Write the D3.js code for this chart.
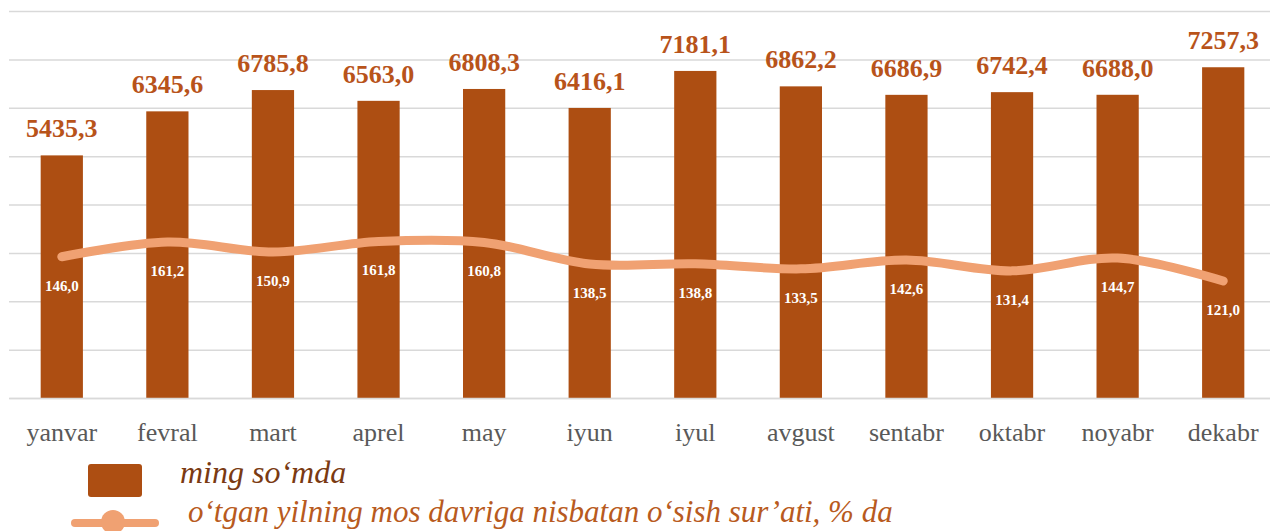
<!DOCTYPE html>
<html>
<head>
<meta charset="utf-8">
<script src="https://cdn.jsdelivr.net/npm/d3@7"></script>
<style>
  body { margin: 0; background: #fff; }
  svg { display: block; }
</style>
</head>
<body>
<script>
const width = 1270;
const height = 531;

const months = ["yanvar", "fevral", "mart", "aprel", "may", "iyun", "iyul", "avgust", "sentabr", "oktabr", "noyabr", "dekabr"];
const amount = [5435.3, 6345.6, 6785.8, 6563.0, 6808.3, 6416.1, 7181.1, 6862.2, 6686.9, 6742.4, 6688.0, 7257.3];
const growth = [146.0, 161.2, 150.9, 161.8, 160.8, 138.5, 138.8, 133.5, 142.6, 131.4, 144.7, 121.0];
const legendNames = ["ming so\u2018mda", "o\u2018tgan yilning mos davriga nisbatan o\u2018sish sur\u2019ati, % da"];

const fmt = v => v.toFixed(1).replace(".", ",");
const serif = "'Liberation Serif', 'Times New Roman', serif";

const plotTop = 11, base = 398, plotLeft = 9, plotRight = 1276;

const svg = d3.select("body").append("svg")
    .attr("width", width)
    .attr("height", height);

const x = d3.scaleBand()
    .domain(months)
    .range([plotLeft, plotRight])
    .paddingInner(0.6)
    .paddingOuter(0.3);

// bar axis (does not start at zero in the original)
const yBar = d3.scaleLinear().domain([420, 8420]).range([base, plotTop]);
// secondary axis for the growth line
const yLine = d3.scaleLinear().domain([0, 400]).range([base, plotTop]);

// grid lines
svg.append("g")
    .attr("transform", "translate(" + plotLeft + ",0)")
    .call(d3.axisLeft(yLine).tickValues(d3.range(0, 401, 50)).tickSize(-(plotRight - plotLeft)).tickFormat(""))
    .call(g => g.select(".domain").remove())
    .call(g => g.selectAll("line").attr("stroke", "#d9d9d9").attr("stroke-width", 1.5));

// bars
svg.append("g").selectAll("rect")
    .data(amount)
    .join("rect")
    .attr("x", (d, i) => x(months[i]))
    .attr("y", d => yBar(d))
    .attr("width", x.bandwidth())
    .attr("height", d => base - yBar(d))
    .attr("fill", "#ad4e12");

// bar labels
svg.append("g").selectAll("text")
    .data(amount)
    .join("text")
    .attr("x", (d, i) => x(months[i]) + x.bandwidth() / 2)
    .attr("y", d => yBar(d) - 18)
    .attr("text-anchor", "middle")
    .style("font-family", serif)
    .style("font-weight", "bold")
    .style("font-size", "26px")
    .attr("fill", "#b8531a")
    .text(d => fmt(d));

// category axis
svg.append("g")
    .attr("transform", "translate(0," + base + ")")
    .call(d3.axisBottom(x).tickSize(0).tickPadding(0))
    .call(g => g.select(".domain").attr("stroke", "#d9d9d9").attr("stroke-width", 1.5))
    .call(g => g.selectAll("text")
        .attr("dy", null)
        .attr("y", 43)
        .style("font-family", serif)
        .style("font-size", "26px")
        .attr("fill", "#595959"));

// growth line
const line = d3.line()
    .x((d, i) => x(months[i]) + x.bandwidth() / 2)
    .y(d => yLine(d))
    .curve(d3.curveCatmullRom);

svg.append("path")
    .datum(growth)
    .attr("d", line)
    .attr("fill", "none")
    .attr("stroke", "#f0a172")
    .attr("stroke-width", 9)
    .attr("stroke-linecap", "round");

svg.append("g").selectAll("text")
    .data(growth)
    .join("text")
    .attr("x", (d, i) => x(months[i]) + x.bandwidth() / 2)
    .attr("y", d => yLine(d) + 34)
    .attr("text-anchor", "middle")
    .style("font-family", serif)
    .style("font-weight", "bold")
    .style("font-size", "15px")
    .attr("fill", "#ffffff")
    .text(d => fmt(d));

// legend
const legend = svg.append("g");
legend.append("rect")
    .attr("x", 88).attr("y", 464)
    .attr("width", 54).attr("height", 33)
    .attr("rx", 3)
    .attr("fill", "#ad4e12");
legend.append("text")
    .attr("x", 180).attr("y", 483)
    .style("font-family", serif)
    .style("font-style", "italic")
    .style("font-size", "32px")
    .attr("fill", "#7a3a12")
    .text(legendNames[0]);

legend.append("line")
    .attr("x1", 75).attr("x2", 155)
    .attr("y1", 523).attr("y2", 523)
    .attr("stroke", "#f0a172")
    .attr("stroke-width", 8)
    .attr("stroke-linecap", "round");
legend.append("circle")
    .attr("cx", 113).attr("cy", 522)
    .attr("r", 12)
    .attr("fill", "#f0a172");
legend.append("text")
    .attr("x", 188).attr("y", 522)
    .style("font-family", serif)
    .style("font-style", "italic")
    .style("font-size", "31px")
    .attr("fill", "#b85a20")
    .text(legendNames[1]);
</script>
</body>
</html>
